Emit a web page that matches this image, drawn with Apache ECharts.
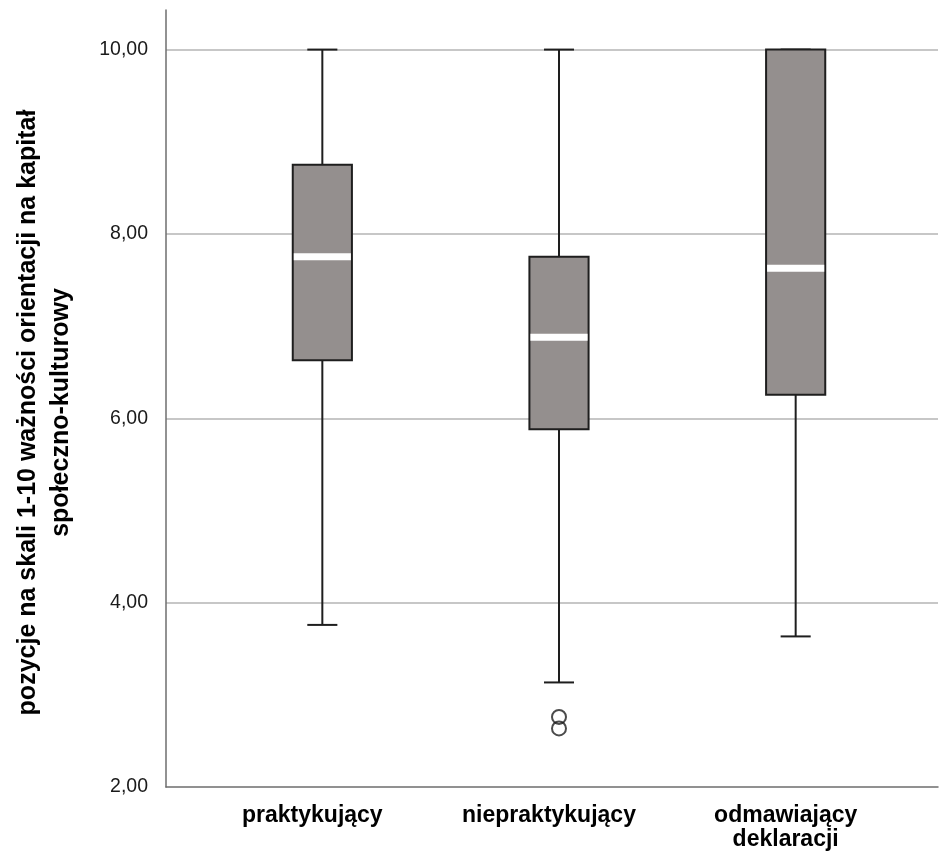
<!DOCTYPE html>
<html>
<head>
<meta charset="utf-8">
<script src="https://cdn.jsdelivr.net/npm/echarts@6/dist/echarts.min.js"></script>
<style>
html,body{margin:0;padding:0;background:#fff;}
#chart{width:940px;height:852px;}
</style>
</head>
<body>
<div id="chart"></div>
<script>
const categories = ['praktykujący', 'niepraktykujący', 'odmawiający\ndeklaracji'];
const whiskerLow = [3.75, 3.125, 3.625];
const quartile1 = [6.625, 5.875, 6.25];
const median = [7.75, 6.875, 7.625];
const quartile3 = [8.75, 7.75, 10];
const whiskerHigh = [10, 10, 10];
const outlierCategory = [1, 1];
const outlierValues = [2.75, 2.625];
const yMin = 2, yMax = 10.43, yInterval = 2;
const yTitle = 'pozycje na skali 1-10 ważności orientacji na kapitał\nspołeczno-kulturowy';

const boxData = categories.map((c, i) => [i, whiskerLow[i], quartile1[i], median[i], quartile3[i], whiskerHigh[i]]);
const outlierData = outlierValues.map((v, i) => [outlierCategory[i], v]);

const chart = echarts.init(document.getElementById('chart'), null, {renderer: 'canvas'});
const FONT = '"Liberation Sans", Arial, sans-serif';
const INK = '#1e1e1e';

function renderBox(params, api) {
  const x = api.value(0);
  const lo = api.coord([x, api.value(1)]);
  const b1 = api.coord([x, api.value(2)]);
  const md = api.coord([x, api.value(3)]);
  const b3 = api.coord([x, api.value(4)]);
  const hi = api.coord([x, api.value(5)]);
  const band = api.size([1, 0])[0];
  const bw = band * 0.25;
  const cw = band * 0.127;
  const cx = lo[0];
  const line = {stroke: INK, lineWidth: 2};
  return {
    type: 'group',
    children: [
      {type: 'line', shape: {x1: cx, y1: hi[1], x2: cx, y2: b3[1]}, style: line},
      {type: 'line', shape: {x1: cx, y1: b1[1], x2: cx, y2: lo[1]}, style: line},
      {type: 'line', shape: {x1: cx - cw / 2, y1: hi[1], x2: cx + cw / 2, y2: hi[1]}, style: line},
      {type: 'line', shape: {x1: cx - cw / 2, y1: lo[1], x2: cx + cw / 2, y2: lo[1]}, style: line},
      {type: 'rect', shape: {x: cx - bw / 2, y: b3[1], width: bw, height: b1[1] - b3[1]},
        style: {fill: '#948f8e', stroke: INK, lineWidth: 2}},
      {type: 'rect', shape: {x: cx - bw / 2 + 1, y: md[1] - 3.5, width: bw - 2, height: 7},
        style: {fill: '#ffffff'}}
    ]
  };
}

const option = {
  animation: false,
  backgroundColor: '#ffffff',
  grid: [
    {left: 166, right: 2, top: 10, bottom: 65, containLabel: false},
    {left: 204, right: 26, top: 10, bottom: 65, containLabel: false}
  ],
  xAxis: [
    {type: 'value', gridIndex: 0, min: 0, max: 1,
      axisLine: {show: true, lineStyle: {color: '#6e6e6e', width: 1.5}},
      axisTick: {show: false}, axisLabel: {show: false}, splitLine: {show: false}},
    {type: 'category', gridIndex: 1, data: categories, boundaryGap: true,
      axisLine: {show: false}, axisTick: {show: false}, splitLine: {show: false},
      axisLabel: {interval: 0, margin: 18, color: '#000', fontFamily: FONT, fontWeight: 'bold',
        fontSize: 23, lineHeight: 24, padding: [0, 20, 0, 0]}}
  ],
  yAxis: [
    {type: 'value', gridIndex: 0, min: yMin, max: yMax, interval: yInterval,
      name: yTitle, nameLocation: 'middle', nameGap: 88,
      nameTextStyle: {fontFamily: FONT, fontWeight: 'bold', fontSize: 25, lineHeight: 33, color: '#000',
        padding: [0, 28, 0, 0]},
      axisLine: {show: true, lineStyle: {color: '#6e6e6e', width: 1.5}},
      axisTick: {show: false},
      axisLabel: {margin: 18, color: '#1a1a1a', fontFamily: FONT, fontSize: 19.5, showMaxLabel: false,
        formatter: v => (Math.abs(v / yInterval - Math.round(v / yInterval)) < 1e-9 ? v.toFixed(2).replace('.', ',') : '')},
      splitLine: {show: true, showMinLine: false, showMaxLine: false, lineStyle: {color: '#b4b4b4', width: 1.5}}},
    {type: 'value', gridIndex: 1, min: yMin, max: yMax, interval: yInterval, show: false,
      splitLine: {show: false}}
  ],
  series: [
    {type: 'custom', xAxisIndex: 1, yAxisIndex: 1, data: boxData, renderItem: renderBox,
      encode: {x: 0, y: [1, 2, 3, 4, 5]}, clip: false, z: 3},
    {type: 'scatter', xAxisIndex: 1, yAxisIndex: 1, data: outlierData, symbol: 'circle', symbolSize: 14,
      itemStyle: {color: 'rgba(0,0,0,0)', borderColor: INK, borderWidth: 2}, z: 4}
  ]
};
chart.setOption(option);
</script>
</body>
</html>
